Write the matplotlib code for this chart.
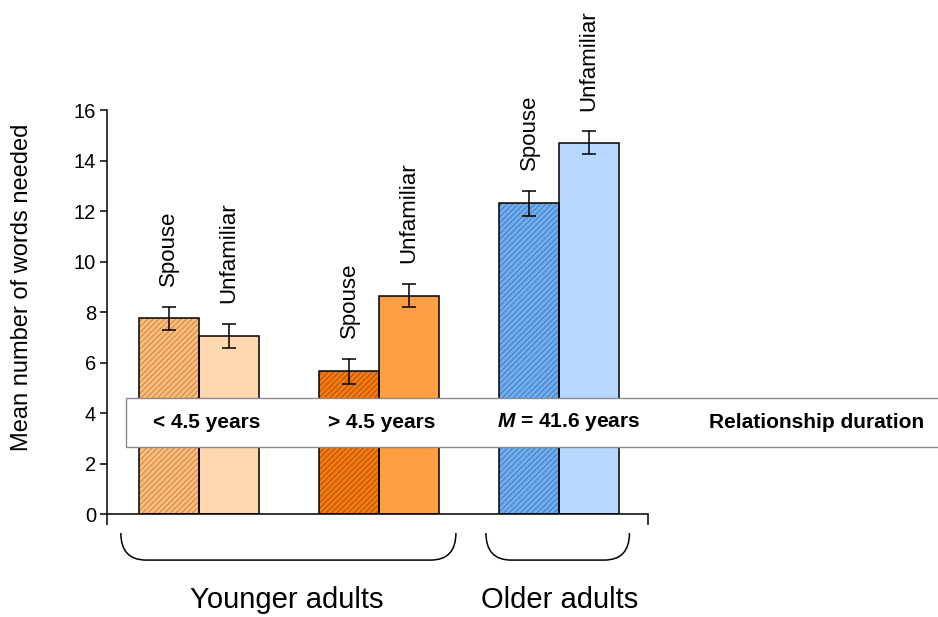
import matplotlib
matplotlib.use("Agg")
import matplotlib.pyplot as plt
from matplotlib.patches import Rectangle, PathPatch
from matplotlib.path import Path
from matplotlib.transforms import blended_transform_factory

plt.rcParams["font.family"] = ["Liberation Sans", "DejaVu Sans"]
plt.rcParams["mathtext.fontset"] = "custom"
plt.rcParams["mathtext.bfit"] = "Liberation Sans:bold:italic"
plt.rcParams["hatch.linewidth"] = 0.6

# bar data: spouse / unfamiliar partner per relationship-duration group
conditions = ["Spouse", "Unfamiliar", "Spouse", "Unfamiliar", "Spouse", "Unfamiliar"]
positions = [1, 2, 4, 5, 7, 8]
means = [7.75, 7.05, 5.65, 8.65, 12.3, 14.7]
errors = [0.45, 0.48, 0.5, 0.45, 0.48, 0.45]
face_colors = ["#F9BD80", "#FFD8B0", "#F47B12", "#FF9E42", "#70AEEE", "#B7D9FF"]
hatch_colors = ["#C97A35", None, "#A34800", None, "#3D72B5", None]

durations = ["< 4.5 years", "> 4.5 years", r"$\mathbfit{M}$ = 41.6 years", "Relationship duration"]
age_groups = ["Younger adults", "Older adults"]

fig = plt.figure(figsize=(9.38, 6.17), dpi=100)
ax = fig.add_axes([0.1141, 0.1669, 0.5768, 0.6548])

for x, m, fc, hc in zip(positions, means, face_colors, hatch_colors):
    if hc:
        ax.bar(x, m, width=1.0, color=fc, edgecolor=hc, hatch="//////", linewidth=0, zorder=2)
        ax.bar(x, m, width=1.0, fill=False, edgecolor="black", linewidth=1.1, zorder=3)
    else:
        ax.bar(x, m, width=1.0, color=fc, edgecolor="black", linewidth=1.1, zorder=2)

ax.errorbar(positions, means, yerr=errors, fmt="none", ecolor="black",
            elinewidth=1.1, capsize=5, capthick=1.1, zorder=4)

for x, m, e, name in zip(positions, means, errors, conditions):
    ax.annotate(name, xy=(x, m + e), xytext=(0, 15), textcoords="offset points",
                rotation=90, ha="center", va="bottom", fontsize=16)

ax.set_xlim(-0.03, 8.98)
ax.set_ylim(0, 16)
ax.set_yticks(range(0, 17, 2))
ax.set_xticks([-0.03, 8.98])
ax.set_xticklabels([])
ax.tick_params(axis="y", direction="out", length=5, width=1.1, labelsize=14.5, pad=3)
ax.tick_params(axis="x", direction="out", length=8, width=1.1)
for side in ["top", "right"]:
    ax.spines[side].set_visible(False)
for side in ["left", "bottom"]:
    ax.spines[side].set_linewidth(1.1)
ax.set_ylabel("Mean number of words needed", fontsize=17, va="center")
ax.yaxis.set_label_coords(-0.157, 0.56)

# relationship-duration band across the bars
band = Rectangle((0.1343, 0.2755), 0.9, 0.0794, transform=fig.transFigure,
                 facecolor="white", edgecolor="#8a8a8a", linewidth=1.0, zorder=5)
fig.patches.append(band)
for xf, label in zip([0.2207, 0.4072, 0.6066, 0.871], durations):
    fig.text(xf, 0.316, label, ha="center", va="center", fontsize=15,
             fontweight="bold", zorder=6)

# curly brackets for the age groups
trans = blended_transform_factory(ax.transData, ax.transAxes)
top, bottom, rx = -0.047, -0.114, 0.42
for x0, x1 in [(0.2, 5.78), (6.28, 8.67)]:
    verts = [(x0, top), (x0, bottom), (x0 + rx, bottom),
             (x1 - rx, bottom), (x1, bottom), (x1, top)]
    codes = [Path.MOVETO, Path.CURVE3, Path.CURVE3,
             Path.LINETO, Path.CURVE3, Path.CURVE3]
    ax.add_patch(PathPatch(Path(verts, codes), transform=trans, fill=False,
                           edgecolor="black", linewidth=1.1, clip_on=False))

for xc, label in zip([2.97, 7.51], age_groups):
    ax.text(xc, -0.213, label, transform=trans, ha="center", va="center", fontsize=21)

fig.savefig("out.png", dpi=100)
